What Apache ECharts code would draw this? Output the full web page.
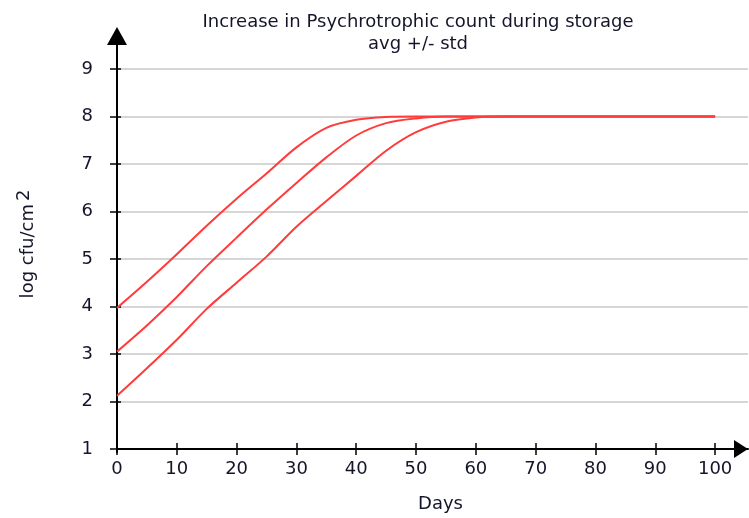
<!DOCTYPE html>
<html>
<head>
<meta charset="utf-8">
<script src="https://cdn.jsdelivr.net/npm/echarts@6/dist/echarts.min.js"></script>
<style>html,body{margin:0;padding:0;background:#fff}#c{width:749px;height:518px}</style>
</head>
<body>
<div id="c"></div>
<script>
const days = [0,5,10,15,20,25,30,35,40,45,50,55,60,65,70,75,80,85,90,95,100];
const upper = [3.97,4.52,5.1,5.7,6.27,6.8,7.35,7.76,7.93,7.99,8,8,8,8,8,8,8,8,8,8,8];
const avg   = [3.05,3.6,4.2,4.85,5.45,6.04,6.6,7.14,7.6,7.86,7.96,8,8,8,8,8,8,8,8,8,8];
const lower = [2.12,2.7,3.3,3.95,4.5,5.05,5.68,6.22,6.75,7.28,7.67,7.89,7.98,8,8,8,8,8,8,8,8];
const xTicks = [0,10,20,30,40,50,60,70,80,90,100];
const yTicks = [1,2,3,4,5,6,7,8,9];

const font = '"DejaVu Sans", Arial, sans-serif';
const txt = '#15152a';
const red = '#ff3b3b';
const pairs = vals => days.map((d,i)=>[d, vals[i]]);
const mk = (name, vals) => ({
  name, type:'line', data: pairs(vals), showSymbol:false, symbol:'none',
  smooth:0.3, xAxisIndex:0, yAxisIndex:0,
  lineStyle:{color:red, width:2}, itemStyle:{color:red}, z:5
});

const chart = echarts.init(document.getElementById('c'), null, {renderer:'canvas'});
chart.setOption({
  animation:false,
  backgroundColor:'#fff',
  title:{
    text:'Increase in Psychrotrophic count during storage\navg +/- std',
    left:413, top:6, textAlign:'center',
    textStyle:{fontFamily:font, fontSize:18, fontWeight:'normal', color:txt, lineHeight:22, align:'center'}
  },
  grid:[
    {left:117, width:631, top:69, height:383},
    {left:117, width:1, top:36, height:416}
  ],
  xAxis:[
    {gridIndex:0, type:'value', min:0, max:105.5,
     axisLine:{show:true, lineStyle:{color:'#000', width:2}, symbol:['none','triangle'], symbolSize:[18,14], symbolOffset:[0,-7]},
     axisTick:{show:true, customValues:xTicks, length:6, lineStyle:{color:'#000', width:1.5}},
     axisLabel:{customValues:xTicks, fontFamily:font, fontSize:18, color:txt, margin:11},
     splitLine:{show:false},
     name:'Days', nameLocation:'middle', nameGap:46,
     nameTextStyle:{fontFamily:font, fontSize:18, color:txt, padding:[0,0,0,16]}
    },
    {gridIndex:1, type:'value', show:false, min:0, max:1},
    {gridIndex:0, type:'value', min:0, max:105.5, position:'bottom',
     axisLine:{show:false},
     axisTick:{show:true, inside:true, customValues:xTicks, length:6, lineStyle:{color:'#000', width:1.5}},
     axisLabel:{show:false}, splitLine:{show:false}
    }
  ],
  yAxis:[
    {gridIndex:0, type:'value', min:1, max:9, interval:1,
     axisLine:{show:false},
     axisTick:{show:true, length:7, lineStyle:{color:'#000', width:1.5}},
     axisLabel:{fontFamily:font, fontSize:18, color:txt, margin:24},
     splitLine:{show:true, lineStyle:{color:'#c8c8c8', width:1.5}}
    },
    {gridIndex:1, type:'value', min:0, max:1,
     axisLine:{show:true, lineStyle:{color:'#000', width:2}, symbol:['none','triangle'], symbolSize:[20,18]},
     axisTick:{show:false}, axisLabel:{show:false}, splitLine:{show:false},
     name:'log cfu/cm{sup|2}', nameLocation:'middle', nameGap:76, nameRotate:90,
     nameTextStyle:{fontFamily:font, fontSize:18, color:txt, padding:[0,0,0,0],
       rich:{sup:{fontFamily:font, fontSize:18, color:txt, verticalAlign:'bottom', padding:[0,0,8,3]}}}
    },
    {gridIndex:0, type:'value', min:1, max:9, interval:1, position:'left',
     axisLine:{show:false},
     axisTick:{show:true, inside:true, length:4, lineStyle:{color:'#000', width:1.5}},
     axisLabel:{show:false}, splitLine:{show:false}
    }
  ],
  series:[mk('avg + std', upper), mk('avg', avg), mk('avg - std', lower)]
});
</script>
</body>
</html>
